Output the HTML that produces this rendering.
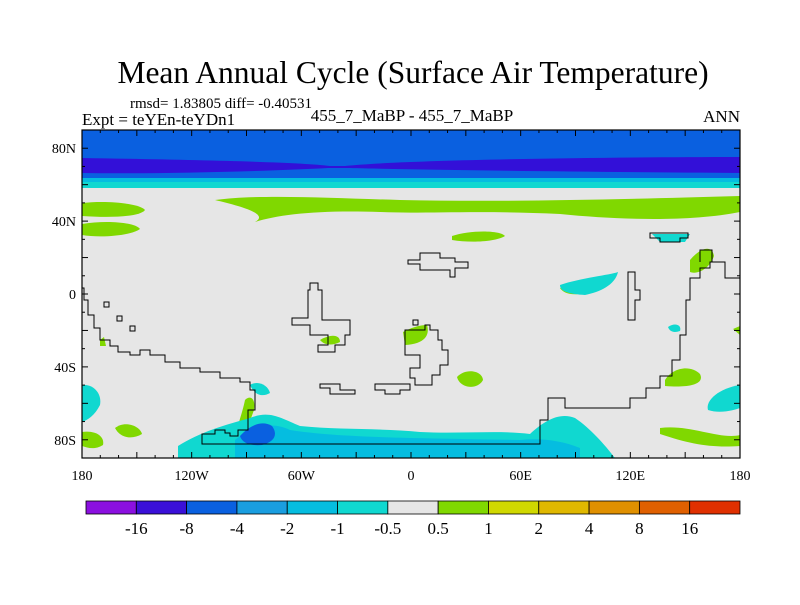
<!DOCTYPE html>
<html><head><meta charset="utf-8"><style>
body{margin:0;background:#fff;}
svg text{font-family:"Liberation Serif",serif;fill:#000;}
</style></head><body>
<svg width="800" height="600" xmlns="http://www.w3.org/2000/svg">
<text x="413" y="83" font-size="31.5" text-anchor="middle">Mean Annual Cycle (Surface Air Temperature)</text>
<text x="130" y="108" font-size="15">rmsd= 1.83805 diff= -0.40531</text>
<text x="82" y="125" font-size="17">Expt = teYEn-teYDn1</text>
<text x="412" y="121" font-size="17" text-anchor="middle">455_7_MaBP - 455_7_MaBP</text>
<text x="740" y="122" font-size="17" text-anchor="end">ANN</text>

<g>
<rect x="82" y="130" width="658" height="328" fill="#e6e6e6"/>
<rect x="82" y="130" width="658" height="58" fill="#10d8d0"/>
<rect x="82" y="130" width="658" height="52" fill="#05bde0"/>
<rect x="82" y="130" width="658" height="48" fill="#0a60e0"/>
<path d="M82,158 C200,160 300,162 330,166 L345,166 C400,160 600,157 740,157 L740,173 C600,172 420,170 350,168 L328,168 C250,172 150,174 82,173 Z" fill="#3310d8"/>
<g fill="#80d800">
<path d="M215,200 C260,194 330,198 400,200 C500,202 600,200 740,196 L740,212 C690,222 620,220 560,214 C480,210 420,214 380,212 C320,210 280,214 255,222 C270,214 240,206 215,200 Z"/>
<path d="M82,203 C110,200 140,204 145,210 C140,217 110,218 82,216 Z"/>
<path d="M82,224 C105,220 135,222 140,229 C130,236 100,238 82,235 Z"/>
<path d="M452,236 C470,230 500,230 505,236 C495,242 470,243 452,240 Z"/>
<path d="M403,332 C410,328 420,325 427,325 C430,335 425,344 405,345 Z"/>
<path d="M457,377 C465,368 482,370 483,380 C478,390 460,389 457,377 Z"/>
<path d="M665,380 C672,368 690,364 700,374 C705,384 690,388 665,386 Z"/>
<path d="M690,260 C700,248 712,244 714,256 C710,268 698,275 690,272 Z"/>
<path d="M82,432 C95,430 105,436 103,445 C95,450 88,448 82,446 Z"/>
<path d="M115,428 C125,420 140,426 142,434 C132,440 120,438 115,428 Z"/>
<path d="M660,428 C690,424 720,440 740,435 L740,446 C710,448 690,444 660,434 Z"/>
<path d="M245,400 C250,395 256,398 254,410 L246,432 L236,438 C236,428 242,415 245,400 Z"/>
<path d="M320,340 C330,334 340,334 340,342 C332,346 324,345 320,340 Z"/>
<path d="M560,288 C570,284 580,286 590,290 C580,296 565,296 560,288 Z"/>
<path d="M733,329 L740,326 L740,335 Z"/>
<path d="M100,340 L104,337 L106,346 L100,346 Z"/>
</g>
<g>
<path d="M560,285 C580,278 610,275 618,272 C615,285 600,292 585,295 C570,294 560,292 560,285 Z" fill="#10d8d0"/>
<path d="M652,234 L690,234 L685,242 L660,242 Z" fill="#10d8d0"/>
<path d="M82,385 C95,384 102,395 100,405 C95,415 88,420 82,422 Z" fill="#10d8d0"/>
<path d="M740,385 C720,388 705,400 708,410 C720,414 735,410 740,408 Z" fill="#10d8d0"/>
<path d="M250,385 C258,380 268,385 270,393 C263,397 255,396 250,385 Z" fill="#10d8d0"/>
<path d="M178,446 C200,432 225,425 250,418 C270,410 280,418 300,426 C340,430 380,428 420,432 C460,434 500,430 530,434 C545,420 560,412 575,418 C590,428 605,445 615,458 L178,458 Z" fill="#10d8d0"/>
<path d="M235,440 C250,428 270,420 290,430 C340,438 420,438 520,440 C540,438 560,440 580,448 L580,458 L235,458 Z" fill="#05bde0"/>
<path d="M240,436 C250,425 262,420 272,426 C278,434 275,442 262,445 C250,446 242,443 240,436 Z" fill="#0a60e0"/>
<path d="M668,327 C675,322 682,325 680,331 C674,333 670,332 668,327 Z" fill="#10d8d0"/>
</g>
<g fill="none" stroke="#000" stroke-width="1">
<path d="M82,288 L84,288 L84,300 L88,300 L88,315 L94,315 L94,328 L100,328 L100,340 L110,340 L110,346 L118,346 L118,352 L130,352 L130,355 L140,355 L140,350 L150,350 L150,355 L165,355 L165,362 L180,362 L180,368 L200,368 L200,372 L220,372 L220,378 L240,378 L240,382 L250,382 L250,390 L255,390 L255,410 L248,410 L248,430 L238,430 L238,436 L230,436 L230,433 L225,433 L225,430 L215,430 L215,434 L202,434 L202,444 L540,444 L540,420 L548,420 L548,398 L565,398 L565,408 L630,408 L630,398 L646,398 L646,388 L660,388 L660,376 L672,376 L672,360 L680,360 L680,335 L686,335 L686,300 L690,300 L690,278 L700,278 L700,268 L710,268 L710,262 L725,262 L725,278 L740,278"/>
<path d="M408,260 L420,260 L420,253 L440,253 L440,258 L455,258 L455,262 L468,262 L468,268 L455,268 L455,277 L450,277 L450,270 L420,270 L420,264 L408,264 Z"/>
<path d="M310,283 L318,283 L318,290 L322,290 L322,320 L350,320 L350,335 L345,335 L345,345 L335,345 L335,352 L318,352 L318,345 L328,345 L328,335 L310,335 L310,325 L292,325 L292,318 L308,318 L308,290 L310,290 Z"/>
<path d="M405,330 L425,330 L425,325 L430,325 L430,330 L438,330 L438,340 L442,340 L442,350 L448,350 L448,365 L440,365 L440,375 L432,375 L432,385 L415,385 L415,378 L410,378 L410,368 L420,368 L420,355 L405,355 Z"/>
<path d="M628,272 L635,272 L635,290 L640,290 L640,300 L635,300 L635,320 L628,320 Z"/>
<path d="M650,233 L688,233 L688,238 L680,238 L680,242 L660,242 L660,238 L650,238 Z"/>
<path d="M320,384 L340,384 L340,390 L355,390 L355,394 L330,394 L330,388 L320,388 Z"/>
<path d="M375,384 L410,384 L410,390 L400,390 L400,394 L385,394 L385,390 L375,390 Z"/>
<path d="M700,262 L700,250 L712,250 L712,262"/>
<rect x="104" y="302" width="5" height="5"/><rect x="117" y="316" width="5" height="5"/><rect x="130" y="326" width="5" height="5"/><rect x="413" y="320" width="5" height="5"/>
</g>
<rect x="82" y="130" width="658" height="328" fill="none" stroke="#000" stroke-width="1.2"/>
</g>
<g id="ticks"></g>

<g id="cbar"></g>
<script>
const cbColors=["#8b10e0","#3a10d8","#0a60e0","#1a9ee0","#05bde0","#10d8d0","#e6e6e6","#80d800","#d0d800","#e0b800","#e09000","#e06000","#e03000"];
const cbLabels=["-16","-8","-4","-2","-1","-0.5","0.5","1","2","4","8","16"];
const lonTicks=["180","120W","60W","0","60E","120E","180"];
const lonVals=[-180,-120,-60,0,60,120,180];
const latTicks=["80N","40N","0","40S","80S"];
const latVals=[80,40,0,-40,-80];
const NS="http://www.w3.org/2000/svg";
const xL=lon=>82+(lon+180)*658/360;
const yL=lat=>130+(90-lat)*328/180;
const ax=document.getElementById('ticks');
function mk(tag,attrs,parent){const e=document.createElementNS(NS,tag);for(const k in attrs)e.setAttribute(k,attrs[k]);parent.appendChild(e);return e;}
lonVals.forEach((v,i)=>{
 const t=mk('text',{x:xL(v),y:480,'font-size':14,'text-anchor':'middle'},ax);
 
 
 t.textContent=lonTicks[i];
});
for(let lon=-180;lon<=180;lon+=10){
 const l=mk('line',{x1:xL(lon),x2:xL(lon),y1:458,y2:lon%30==0?452:455,stroke:'#000'},ax);
 
 
 const l2=mk('line',{x1:xL(lon),x2:xL(lon),y1:130,y2:lon%30==0?136:133,stroke:'#000'},ax);
 
 
}
latVals.forEach((v,i)=>{
 const t=mk('text',{x:76,y:yL(v)+5,'font-size':14,'text-anchor':'end'},ax);
 
 
 t.textContent=latTicks[i];
});
for(let lat=-90;lat<=90;lat+=10){
 const l=mk('line',{x1:82,x2:lat%20==0?88:85,y1:yL(lat),y2:yL(lat),stroke:'#000'},ax);
 
 
 const l2=mk('line',{x1:740,x2:lat%20==0?734:737,y1:yL(lat),y2:yL(lat),stroke:'#000'},ax);
 
 
}
const cb=document.getElementById('cbar');
const w=654/cbColors.length;
cbColors.forEach((c,i)=>{
 const r=mk('rect',{x:86+i*w,y:501,width:w,height:13,fill:c,stroke:'#000','stroke-width':0.8},cb);
 
 
});
cbLabels.forEach((s,i)=>{
 const t=mk('text',{x:86+(i+1)*w,y:534,'font-size':17,'text-anchor':'middle'},cb);
 
 
 t.textContent=s;
});
</script>
</svg>
</body></html>
